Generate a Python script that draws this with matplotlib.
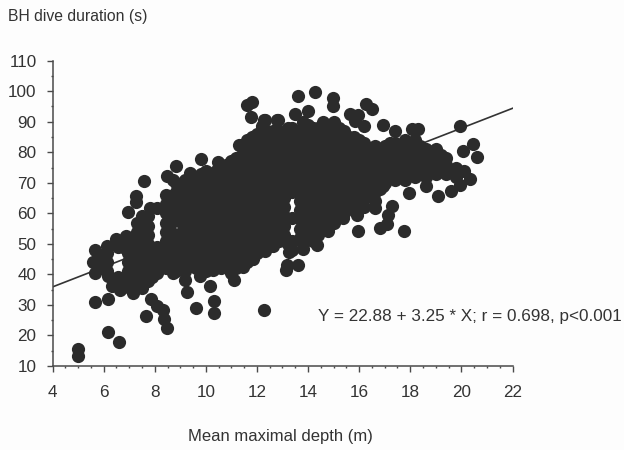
import matplotlib
matplotlib.use("Agg")
import matplotlib.pyplot as plt

plt.rcParams['font.family'] = ['Liberation Sans', 'DejaVu Sans']

# regression line, ends
line_x = [4, 22]
line_y = [35.9, 94.4]

# isolated points below the cloud
low_depth = [4.99, 4.99, 6.6, 6.16, 5.66, 6.16, 7.66, 7.86, 8.08, 8.33, 8.36, 8.47, 9.28, 9.6, 10.16, 10.33, 10.33, 12.29]
low_duration = [15.7, 13.3, 18.0, 21.2, 31.1, 32.1, 26.3, 32.1, 29.6, 28.5, 25.5, 22.3, 34.3, 29.1, 36.3, 31.2, 27.3, 28.5]

# points on the upper edge of the cloud
top_depth = [5.66, 5.6, 5.66, 6.12, 6.49, 6.86, 6.97, 7.28, 7.28, 7.59, 7.82, 8.1, 8.47, 8.7, 8.85, 8.57, 7.55,
             9.38, 9.8, 10.48, 11.3, 11.6, 11.8, 11.77, 12.28, 12.18, 12.8, 13.62, 14.27, 14.97, 14.97, 16.27,
             16.49, 15.64, 15.97, 15.84, 16.17, 12.3, 12.84, 13.47, 13.99, 16.95, 17.4, 18.06, 18.3, 19.95, 20.47, 20.07, 20.6]
top_duration = [48.1, 44.1, 40.3, 49.2, 51.6, 52.7, 60.4, 63.7, 65.8, 70.5, 61.9, 61.9, 72.3, 71.0, 75.6, 65.6, 57.4,
                73.2, 77.8, 76.9, 82.5, 95.5, 96.5, 91.7, 90.7, 88.5, 90.7, 98.6, 99.6, 97.7, 95.0, 95.9,
                94.1, 92.5, 92.3, 90.1, 88.5, 90.7, 90.7, 92.5, 93.4, 88.8, 86.9, 87.6, 87.6, 88.7, 82.7, 80.3, 78.6]

# points on the lower edge of the cloud
bottom_depth = [20.34, 19.95, 19.58, 19.1, 17.95, 18.6, 16.95, 16.62, 17.27, 17.14, 17.08, 16.82, 17.77, 15.97, 15.9,
                15.37, 14.79, 14.34, 13.82, 13.27, 13.17, 13.14, 13.6, 12.3, 11.1, 11.46, 11.85, 12.63, 11.0, 10.29,
                9.77, 9.2, 8.72, 8.08, 7.49, 7.15, 6.64, 6.32, 6.17]
bottom_duration = [71.4, 69.2, 67.2, 65.8, 66.7, 69.1, 68.8, 61.8, 62.3, 59.6, 56.6, 55.2, 54.1, 54.1, 59.6,
                   58.6, 54.1, 49.5, 48.4, 47.4, 43.2, 41.4, 43.2, 47.6, 38.3, 42.3, 44.9, 49.2, 40.6, 41.6,
                   39.4, 38.3, 40.6, 40.6, 35.7, 34.0, 35.0, 36.1, 39.4]

# the packed middle of the cloud, depth of each column and the durations in it
column_depth = [5.85, 6.15, 6.55, 6.75, 6.95, 7.12, 7.3, 7.5, 7.72, 7.9, 8.08, 8.43, 8.62, 8.85, 9.05, 9.2, 9.4, 9.6, 9.8,
                10.0, 10.2, 10.4, 10.6, 10.8, 11.0, 11.2, 11.4, 11.6, 11.8, 12.0, 12.2, 12.4, 12.62, 12.85, 13.05, 13.2,
                13.36, 13.58, 13.7, 13.8, 14.0, 14.2, 14.4, 14.6, 14.8, 15.0, 15.2, 15.4, 15.6, 15.8, 16.0,
                16.2, 16.4, 16.6, 16.8, 17.0, 17.2, 17.4, 17.6, 17.8, 18.0, 18.2, 18.4, 18.6, 18.8, 19.0, 19.2,
                19.4, 19.8, 20.1]
column_duration = [
    [42, 46],
    [41, 44, 47],
    [37, 39, 49],
    [37.5, 49],
    [36, 38, 41, 44, 47, 50],
    [37, 40, 43, 46, 49, 52],
    [36, 39, 42, 45, 48, 51, 54, 57],
    [38, 41, 44, 47, 50, 53, 56, 59],
    [38, 41, 44, 47, 50, 53, 56, 59],
    [39, 42, 45, 48],
    [41, 44, 47, 49],
    [42, 45, 48, 51, 54, 57, 60, 63, 66],
    [42, 45, 48, 51, 54, 57, 60, 63],
    [41, 44, 47, 50, 53, 58, 61, 64, 67, 70],
    [42, 45, 48, 51, 54, 57, 60, 63, 66, 69],
    [41, 44, 47, 50, 53, 56, 59, 62, 65, 68, 71],
    [43, 46, 49, 52, 55, 58, 61, 64, 67, 70],
    [42, 45, 48, 51, 54, 57, 60, 63, 66, 69, 72],
    [43, 46, 49, 52, 55, 58, 61, 64, 67, 70, 73],
    [41, 44, 47, 50, 53, 56, 59, 62, 65, 68, 71, 74],
    [43, 46, 49, 52, 55, 58, 61, 64, 67, 70, 73],
    [44, 47, 50, 53, 56, 59, 62, 65, 68, 71, 74],
    [42, 45, 48, 51, 54, 57, 60, 63, 66, 69, 72, 75],
    [43, 46, 49, 52, 55, 58, 61, 64, 67, 70, 73, 76],
    [44, 47, 50, 53, 56, 59, 62, 65, 68, 71, 74, 77],
    [42, 45, 48, 51, 54, 57, 60, 63, 66, 69, 72, 75, 78],
    [43, 46, 49, 52, 55, 58, 61, 64, 67, 70, 73, 76, 79, 82],
    [44, 47, 50, 53, 56, 59, 62, 65, 68, 71, 74, 77, 80, 84],
    [45, 48, 51, 54, 57, 60, 63, 66, 69, 72, 75, 78, 81, 85],
    [47, 50, 53, 56, 59, 62, 65, 68, 71, 74, 77, 80, 83, 86],
    [48, 51, 54, 57, 60, 63, 66, 69, 72, 75, 78, 81, 84, 87],
    [50, 53, 56, 59, 62, 65, 68, 71, 74, 77, 80, 83, 87],
    [52, 55, 58, 61, 64, 67, 70, 73, 76, 79, 82, 85, 87],
    [51, 54, 57, 60, 63, 66, 69, 72, 75, 78, 81, 84, 87],
    [53, 56, 59, 62, 65, 68, 71, 74, 77, 80, 83, 86],
    [50, 67, 70, 73, 77, 81, 85, 88],
    [48, 51, 58.5, 67, 71, 75, 79, 83, 86, 88],
    [69, 72, 75, 78, 81, 84, 87],
    [52, 55, 58, 61, 64, 67],
    [50, 53, 56, 59, 62, 65, 68, 71, 74, 77, 80, 83, 86, 90],
    [52, 55, 58, 61, 64, 67, 70, 73, 76, 79, 82, 85, 89],
    [51, 54, 57, 60, 63, 66, 69, 72, 75, 78, 81, 84, 88],
    [53, 56, 59, 62, 65, 68, 71, 74, 77, 80, 83, 86, 88],
    [56, 59, 62, 65, 68, 71, 74, 77, 80, 83, 86, 90],
    [58, 61, 64, 67, 70, 73, 76, 79, 82, 85, 88],
    [57, 60, 63, 66, 69, 72, 75, 78, 81, 84, 87, 90],
    [59, 62, 65, 68, 71, 74, 77, 80, 83, 86, 88],
    [60, 63, 66, 69, 72, 75, 78, 81, 84, 87],
    [62, 65, 68, 71, 74, 77, 80, 83, 85],
    [61, 64, 67, 70, 73, 76, 79, 82, 85],
    [63, 66, 69, 72, 75, 78, 81, 84],
    [62, 65, 68, 71, 74, 77, 80, 83],
    [66, 69, 72, 75, 78, 81],
    [64, 67, 70, 73, 76, 79, 82],
    [68, 71, 74, 77, 80],
    [70, 73, 76, 79, 82],
    [72, 75, 78, 81, 83],
    [71, 74, 77, 80, 83],
    [72, 75, 78, 81],
    [71, 74, 77, 80, 84],
    [73, 76, 79, 82],
    [72, 75, 78, 81, 84],
    [73, 76, 79, 82],
    [72, 75, 78, 81],
    [74, 77, 80],
    [73, 75, 78, 81],
    [74, 77, 79],
    [73, 76, 78],
    [72, 75],
    [74],
]

xticks = [4, 6, 8, 10, 12, 14, 16, 18, 20, 22]
yticks = [10, 20, 30, 40, 50, 60, 70, 80, 90, 100, 110]
dot_color = '#2b2b2b'
axis_color = '#4a4a4a'

fig = plt.figure(figsize=(6.24, 4.5), dpi=100, facecolor='#fdfdfd')
ax = fig.add_axes([52.5 / 624, 1 - 366 / 450, 460 / 624, 305.3 / 450])
ax.set_facecolor('none')

ax.plot(line_x, line_y, color='#333333', linewidth=1.2, zorder=1)
for xs, ys in [(low_depth, low_duration), (top_depth, top_duration), (bottom_depth, bottom_duration)]:
    ax.plot(xs, ys, linestyle='none', marker='o', markersize=9.5, markeredgewidth=0,
            color=dot_color, zorder=2)
for depth, durations in zip(column_depth, column_duration):
    ax.plot([depth] * len(durations), durations, linestyle='none', marker='o', markersize=9.5,
            markeredgewidth=0, color=dot_color, zorder=2)

ax.set_xlim(4, 22)
ax.set_ylim(10, 110)
ax.set_xticks(xticks)
ax.set_yticks(yticks)
ax.set_xticks([v / 2 for v in range(8, 45)], minor=True)
ax.set_yticks(list(range(15, 110, 10)), minor=True)
ax.spines['top'].set_visible(False)
ax.spines['right'].set_visible(False)
ax.spines['left'].set_color(axis_color)
ax.spines['bottom'].set_color(axis_color)
ax.spines['left'].set_linewidth(1.1)
ax.spines['bottom'].set_linewidth(1.1)
ax.tick_params(axis='both', which='major', length=4, width=1, color=axis_color,
               labelsize=12.3, labelcolor='#333333')
ax.tick_params(axis='both', which='minor', length=1.5, width=1, color=axis_color)
ax.tick_params(axis='x', which='major', pad=10)
ax.tick_params(axis='y', which='major', pad=7.5)

fig.text(8 / 624, 1 - 17 / 450, 'BH dive duration (s)', fontsize=11.3, color='#333333', va='center', ha='left')
fig.text(280 / 624, 1 - 437 / 450, 'Mean maximal depth (m)', fontsize=12, color='#333333', va='center', ha='center')
fig.text(318 / 624, 1 - 316 / 450, 'Y = 22.88 + 3.25 * X; r = 0.698, p<0.001', fontsize=12.35,
         color='#333333', va='center', ha='left')

fig.savefig('out.png', dpi=100, facecolor=fig.get_facecolor())
